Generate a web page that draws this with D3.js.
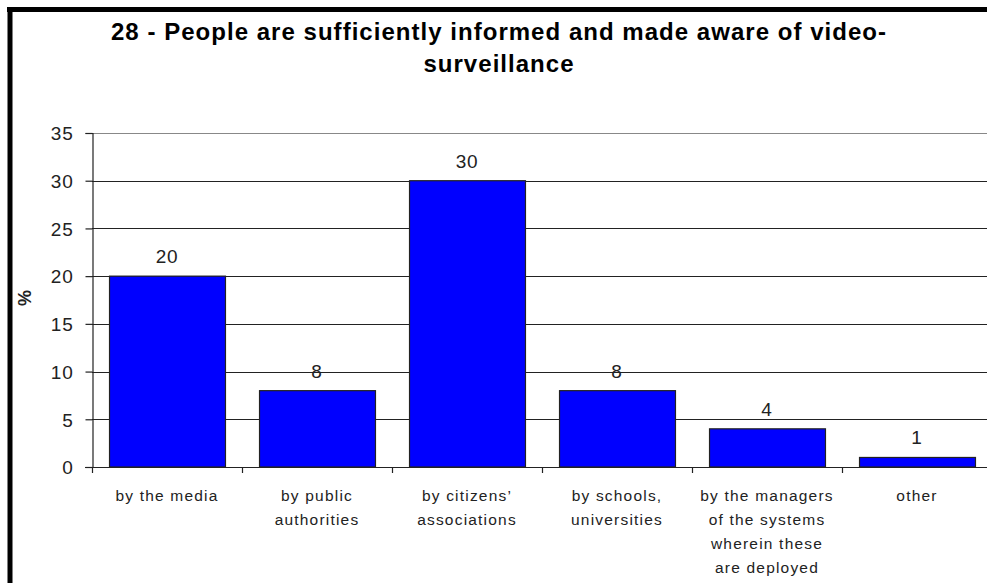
<!DOCTYPE html>
<html><head><meta charset="utf-8">
<script src="https://cdn.jsdelivr.net/npm/d3@7"></script>
<style>html,body{margin:0;padding:0;background:#fff;}svg{display:block;}</style>
</head><body>
<script>
const categories = [
  ["by the media"],
  ["by public", "authorities"],
  ["by citizens’", "associations"],
  ["by schools,", "universities"],
  ["by the managers", "of the systems", "wherein these", "are deployed"],
  ["other"]
];
const values = [20, 8, 30, 8, 4, 1];
const yTicks = [0, 5, 10, 15, 20, 25, 30, 35];
const titleLines = ["28 - People are sufficiently informed and made aware of video-", "surveillance"];
const yLabel = "%";

const W = 987, H = 583;
const svg = d3.select("body").append("svg").attr("width", W).attr("height", H);
const font = "'Liberation Sans', Arial, sans-serif";

// outer frame (cropped)
svg.append("line").attr("x1", 7).attr("x2", W).attr("y1", 9.5).attr("y2", 9.5).attr("stroke", "#000").attr("stroke-width", 5);
svg.append("line").attr("x1", 10).attr("x2", 10).attr("y1", 7).attr("y2", H).attr("stroke", "#000").attr("stroke-width", 5);

const x = d3.scaleBand().domain(d3.range(values.length)).range([92, 992]).paddingInner(0.227).paddingOuter(0.1135);
const y = d3.scaleLinear().domain([0, 35]).range([467, 133]);

// gridlines
svg.append("g").selectAll("line").data(yTicks.filter(d => d > 0)).join("line")
  .attr("x1", 92).attr("x2", W)
  .attr("y1", d => Math.round(y(d)) + 0.5).attr("y2", d => Math.round(y(d)) + 0.5)
  .attr("stroke", d => d === 35 ? "#888" : "#222").attr("stroke-width", 1.2);

// bars
svg.append("g").selectAll("rect").data(values).join("rect")
  .attr("x", (d, i) => x(i) + 0.5)
  .attr("y", d => y(d))
  .attr("width", x.bandwidth())
  .attr("height", d => y(0) - y(d))
  .attr("fill", "#0000FF").attr("stroke", "#222").attr("stroke-width", 1.2);

// y axis
const yAxis = d3.axisLeft(y).tickValues(yTicks).tickSize(7).tickPadding(12);
const gy = svg.append("g").attr("transform", "translate(92.5,0)").call(yAxis);
gy.select(".domain").attr("stroke", "#222").attr("stroke-width", 1.2);
gy.selectAll(".tick line").attr("stroke", "#222").attr("stroke-width", 1.2);
gy.selectAll(".tick text").attr("font-family", font).attr("font-size", 19).attr("fill", "#222")
  .attr("letter-spacing", 0.8).attr("dy", "0.36em");

// x axis
svg.append("line").attr("x1", 85).attr("x2", W).attr("y1", 467.5).attr("y2", 467.5).attr("stroke", "#222").attr("stroke-width", 1.2);
svg.append("g").selectAll("line").data(d3.range(values.length + 1)).join("line")
  .attr("x1", i => Math.round(92 + i * x.step()) + 0.5).attr("x2", i => Math.round(92 + i * x.step()) + 0.5)
  .attr("y1", 467).attr("y2", 473).attr("stroke", "#222").attr("stroke-width", 1.2);

// category labels
const cl = svg.append("g").selectAll("text").data(categories).join("text")
  .attr("font-family", font).attr("font-size", 15.5).attr("fill", "#222")
  .attr("letter-spacing", 1.2)
  .attr("text-anchor", "middle");
cl.each(function(lines, i) {
  const t = d3.select(this);
  lines.forEach((ln, j) => {
    t.append("tspan").attr("x", x(i) + x.bandwidth() / 2).attr("y", 501 + j * 24).text(ln);
  });
});

// value labels
svg.append("g").selectAll("text").data(values).join("text")
  .attr("x", (d, i) => x(i) + x.bandwidth() / 2)
  .attr("y", d => y(d) - 13)
  .attr("text-anchor", "middle").attr("font-family", font).attr("font-size", 19).attr("fill", "#222")
  .attr("letter-spacing", 0.8)
  .text(d => d);

// y label
svg.append("text").attr("transform", "translate(31,298) rotate(-90)")
  .attr("text-anchor", "middle").attr("font-family", font).attr("font-size", 18).attr("font-weight", "bold").attr("fill", "#222")
  .text(yLabel);

// title
const tt = svg.append("g").selectAll("text").data(titleLines).join("text")
  .attr("x", 499).attr("y", (d, i) => 40 + i * 32)
  .attr("text-anchor", "middle").attr("font-family", font).attr("font-size", 24).attr("font-weight", "bold").attr("fill", "#000")
  .text(d => d);
// spread the long line to the reference width
const n0 = tt.nodes()[0];
const nat = n0.getComputedTextLength();
const ls = (775 - nat) / (titleLines[0].length - 1);
tt.attr("letter-spacing", ls);
</script>
</body></html>
